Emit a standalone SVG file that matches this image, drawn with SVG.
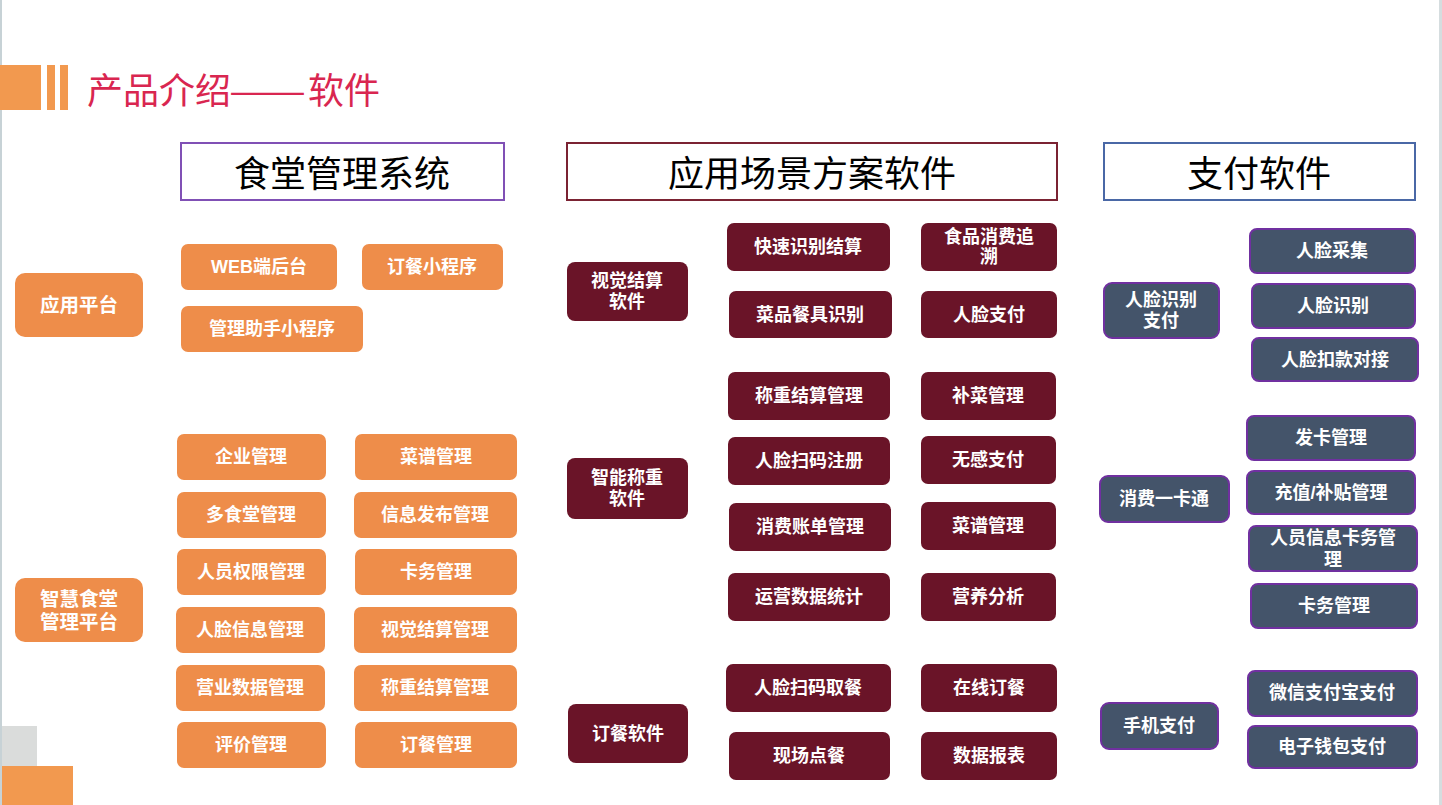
<svg xmlns="http://www.w3.org/2000/svg" width="1442" height="805" viewBox="0 0 1442 805">
<style>
text{font-family:"Noto Sans CJK SC","Liberation Sans",sans-serif;}
.or{fill:#EE8D4A;}
.dr{fill:#6A1428;}
.sl{fill:#44546A;stroke:#7030A0;stroke-width:2;}
.t{font-family:"Liberation Sans","Noto Sans CJK SC",sans-serif;fill:#FFFFFF;font-size:18px;font-weight:bold;text-anchor:middle;dominant-baseline:central;}
.tl{font-family:"Liberation Sans","Noto Sans CJK SC",sans-serif;fill:#FFFFFF;font-size:19.5px;font-weight:bold;text-anchor:middle;dominant-baseline:central;}
.h{fill:#000000;font-size:36px;text-anchor:middle;dominant-baseline:central;}
.hb{fill:#FFFFFF;stroke-width:2;}
</style>
<rect x="0" y="0" width="1442" height="805" fill="#FFFFFF"/>
<!-- decorations -->
<rect x="0" y="0" width="2" height="805" fill="#C7D2D6"/>
<rect x="1439" y="0" width="3" height="805" fill="#D5DDDF"/>
<rect x="0" y="65" width="41" height="45" fill="#F2994F"/>
<rect x="47" y="65" width="8" height="45" fill="#F2994F"/>
<rect x="60" y="65" width="8" height="45" fill="#F2994F"/>
<text y="88" font-size="36" fill="#D92650" dominant-baseline="central"><tspan x="87">产品介绍</tspan><tspan x="229" textLength="77" lengthAdjust="spacingAndGlyphs">——</tspan><tspan x="308">软件</tspan></text>
<rect x="2" y="726" width="35" height="40" fill="#DADCDB"/>
<rect x="2" y="766" width="71" height="39" fill="#F2994F"/>

<!-- headers -->
<g id="hdr-canteen">
<rect class="hb" x="181" y="143" width="323" height="57" stroke="#8050B5"/>
<text class="h" x="342" y="171">食堂管理系统</text>
</g>
<g id="hdr-scene">
<rect class="hb" x="567" y="143" width="490" height="57" stroke="#7B2333"/>
<text class="h" x="812" y="171">应用场景方案软件</text>
</g>
<g id="hdr-pay">
<rect class="hb" x="1104" y="143" width="311" height="57" stroke="#4A68A6"/>
<text class="h" x="1259" y="171">支付软件</text>
</g>

<!-- left column: orange -->
<g id="n-app"><rect class="or" x="15" y="273" width="128" height="64" rx="10"/><text class="tl" x="79" y="305">应用平台</text></g>
<g id="n-web"><rect class="or" x="181" y="244" width="156" height="46" rx="7"/><text class="t" x="259" y="267">WEB端后台</text></g>
<g id="n-order-mini"><rect class="or" x="362" y="244" width="141" height="46" rx="7"/><text class="t" x="432" y="267">订餐小程序</text></g>
<g id="n-mgr-mini"><rect class="or" x="181" y="306" width="182" height="46" rx="7"/><text class="t" x="272" y="329">管理助手小程序</text></g>

<g id="n-smart"><rect class="or" x="15" y="578" width="128" height="64" rx="10"/><text class="tl" y="599"><tspan x="79">智慧食堂</tspan><tspan x="79" dy="23">管理平台</tspan></text></g>

<g id="n-a1"><rect class="or" x="177" y="434" width="149" height="46" rx="7"/><text class="t" x="251" y="457">企业管理</text></g>
<g id="n-b1"><rect class="or" x="355" y="434" width="162" height="46" rx="7"/><text class="t" x="436" y="457">菜谱管理</text></g>
<g id="n-a2"><rect class="or" x="177" y="492" width="149" height="46" rx="7"/><text class="t" x="251" y="515">多食堂管理</text></g>
<g id="n-b2"><rect class="or" x="354" y="492" width="163" height="46" rx="7"/><text class="t" x="435" y="515">信息发布管理</text></g>
<g id="n-a3"><rect class="or" x="177" y="549" width="149" height="46" rx="7"/><text class="t" x="251" y="572">人员权限管理</text></g>
<g id="n-b3"><rect class="or" x="355" y="549" width="162" height="46" rx="7"/><text class="t" x="436" y="572">卡务管理</text></g>
<g id="n-a4"><rect class="or" x="176" y="607" width="149" height="46" rx="7"/><text class="t" x="250" y="630">人脸信息管理</text></g>
<g id="n-b4"><rect class="or" x="354" y="607" width="163" height="46" rx="7"/><text class="t" x="435" y="630">视觉结算管理</text></g>
<g id="n-a5"><rect class="or" x="176" y="665" width="149" height="46" rx="7"/><text class="t" x="250" y="688">营业数据管理</text></g>
<g id="n-b5"><rect class="or" x="354" y="665" width="163" height="46" rx="7"/><text class="t" x="435" y="688">称重结算管理</text></g>
<g id="n-a6"><rect class="or" x="177" y="722" width="149" height="46" rx="7"/><text class="t" x="251" y="745">评价管理</text></g>
<g id="n-b6"><rect class="or" x="355" y="722" width="162" height="46" rx="7"/><text class="t" x="436" y="745">订餐管理</text></g>

<!-- middle column: dark red -->
<g id="n-visual"><rect class="dr" x="567" y="262" width="121" height="59" rx="8"/><text class="t" y="281"><tspan x="627">视觉结算</tspan><tspan x="627" dy="21">软件</tspan></text></g>
<g id="n-c1"><rect class="dr" x="727" y="223" width="163" height="48" rx="7"/><text class="t" x="808" y="247">快速识别结算</text></g>
<g id="n-d1"><rect class="dr" x="921" y="223" width="136" height="48" rx="7"/><text class="t" y="237"><tspan x="989">食品消费追</tspan><tspan x="989" dy="20">溯</tspan></text></g>
<g id="n-c2"><rect class="dr" x="729" y="291" width="163" height="47" rx="7"/><text class="t" x="810" y="315">菜品餐具识别</text></g>
<g id="n-d2"><rect class="dr" x="921" y="291" width="136" height="47" rx="7"/><text class="t" x="989" y="315">人脸支付</text></g>

<g id="n-weigh"><rect class="dr" x="567" y="458" width="121" height="61" rx="8"/><text class="t" y="478"><tspan x="627">智能称重</tspan><tspan x="627" dy="21">软件</tspan></text></g>
<g id="n-c3"><rect class="dr" x="728" y="372" width="162" height="48" rx="7"/><text class="t" x="809" y="396">称重结算管理</text></g>
<g id="n-d3"><rect class="dr" x="921" y="372" width="135" height="48" rx="7"/><text class="t" x="988" y="396">补菜管理</text></g>
<g id="n-c4"><rect class="dr" x="728" y="437" width="162" height="48" rx="7"/><text class="t" x="809" y="461">人脸扫码注册</text></g>
<g id="n-d4"><rect class="dr" x="921" y="436" width="135" height="48" rx="7"/><text class="t" x="988" y="460">无感支付</text></g>
<g id="n-c5"><rect class="dr" x="729" y="503" width="162" height="48" rx="7"/><text class="t" x="810" y="527">消费账单管理</text></g>
<g id="n-d5"><rect class="dr" x="921" y="502" width="135" height="48" rx="7"/><text class="t" x="988" y="526">菜谱管理</text></g>
<g id="n-c6"><rect class="dr" x="728" y="573" width="162" height="48" rx="7"/><text class="t" x="809" y="597">运营数据统计</text></g>
<g id="n-d6"><rect class="dr" x="921" y="573" width="135" height="48" rx="7"/><text class="t" x="988" y="597">营养分析</text></g>

<g id="n-ordersw"><rect class="dr" x="568" y="704" width="120" height="59" rx="8"/><text class="t" x="628" y="734">订餐软件</text></g>
<g id="n-c7"><rect class="dr" x="726" y="664" width="165" height="48" rx="7"/><text class="t" x="808" y="688">人脸扫码取餐</text></g>
<g id="n-d7"><rect class="dr" x="921" y="664" width="136" height="48" rx="7"/><text class="t" x="989" y="688">在线订餐</text></g>
<g id="n-c8"><rect class="dr" x="729" y="732" width="161" height="48" rx="7"/><text class="t" x="809" y="756">现场点餐</text></g>
<g id="n-d8"><rect class="dr" x="921" y="732" width="136" height="48" rx="7"/><text class="t" x="989" y="756">数据报表</text></g>

<!-- right column: slate -->
<g id="n-facepay"><rect class="sl" x="1104" y="283" width="115" height="55" rx="8"/><text class="t" y="300"><tspan x="1161">人脸识别</tspan><tspan x="1161" dy="21">支付</tspan></text></g>
<g id="n-e1"><rect class="sl" x="1250" y="229" width="165" height="44" rx="7"/><text class="t" x="1332" y="251">人脸采集</text></g>
<g id="n-e2"><rect class="sl" x="1252" y="284" width="163" height="44" rx="7"/><text class="t" x="1333" y="306">人脸识别</text></g>
<g id="n-e3"><rect class="sl" x="1252" y="338" width="166" height="43" rx="7"/><text class="t" x="1335" y="360">人脸扣款对接</text></g>

<g id="n-card"><rect class="sl" x="1100" y="476" width="129" height="46" rx="8"/><text class="t" x="1164" y="499">消费一卡通</text></g>
<g id="n-f1"><rect class="sl" x="1247" y="416" width="168" height="44" rx="7"/><text class="t" x="1331" y="438">发卡管理</text></g>
<g id="n-f2"><rect class="sl" x="1247" y="471" width="168" height="43" rx="7"/><text class="t" x="1331" y="493">充值/补贴管理</text></g>
<g id="n-f3"><rect class="sl" x="1249" y="526" width="168" height="45" rx="7"/><text class="t" y="538"><tspan x="1333">人员信息卡务管</tspan><tspan x="1333" dy="22">理</tspan></text></g>
<g id="n-f4"><rect class="sl" x="1251" y="584" width="166" height="44" rx="7"/><text class="t" x="1334" y="606">卡务管理</text></g>

<g id="n-mobile"><rect class="sl" x="1101" y="703" width="117" height="46" rx="8"/><text class="t" x="1159" y="726">手机支付</text></g>
<g id="n-g1"><rect class="sl" x="1248" y="671" width="169" height="45" rx="7"/><text class="t" x="1332" y="693">微信支付宝支付</text></g>
<g id="n-g2"><rect class="sl" x="1248" y="726" width="169" height="42" rx="7"/><text class="t" x="1332" y="747">电子钱包支付</text></g>

<g id="connectors"></g>
</svg>
